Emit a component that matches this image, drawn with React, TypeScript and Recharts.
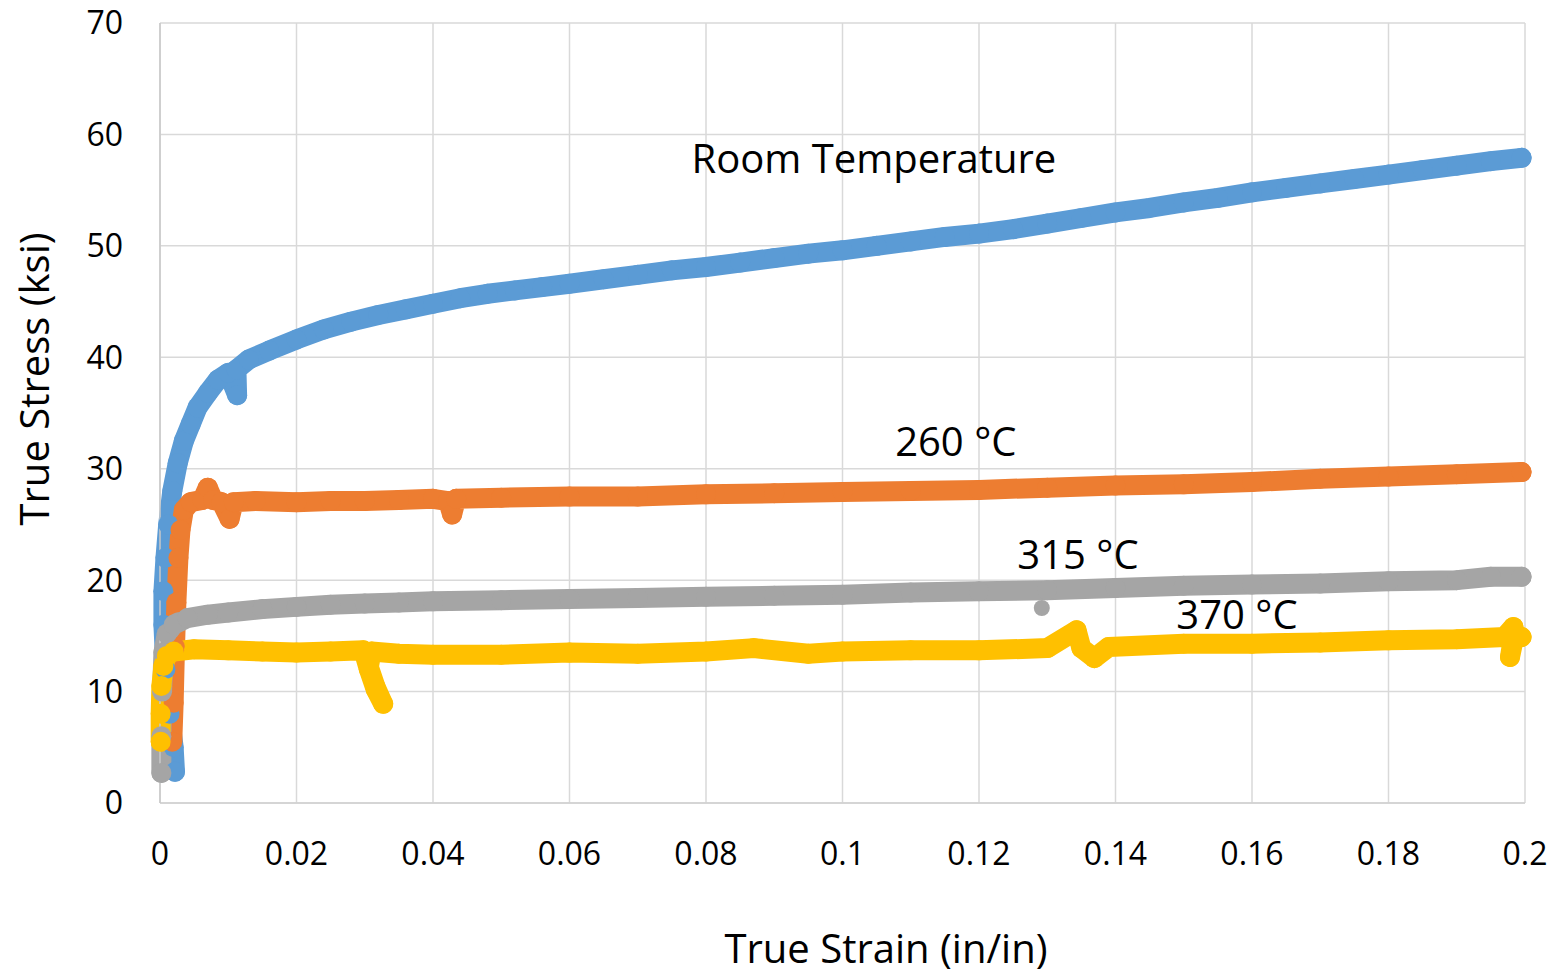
import { ComposedChart, Line, Scatter, XAxis, YAxis, CartesianGrid, ReferenceDot } from 'recharts';

// [strain (in/in), stress (ksi)]
const roomTemp: [number, number][] = [
  [0.0022, 2.8], [0.002, 5], [0.0014, 8], [0.0008, 12], [0.0005, 16], [0.0005, 19],
  [0.0008, 22], [0.0012, 25], [0.0018, 28], [0.0026, 30.5], [0.0035, 32.5], [0.0045, 34],
  [0.0055, 35.5], [0.007, 36.8], [0.0085, 38], [0.01, 38.6], [0.0113, 36.6], [0.0112, 38.9],
  [0.013, 39.8], [0.016, 40.6], [0.02, 41.6], [0.024, 42.5], [0.028, 43.2], [0.032, 43.8],
  [0.036, 44.3], [0.04, 44.8], [0.044, 45.3], [0.048, 45.7], [0.052, 46.0], [0.056, 46.3],
  [0.06, 46.6], [0.065, 47.0], [0.07, 47.4], [0.075, 47.8], [0.08, 48.1], [0.085, 48.5],
  [0.09, 48.9], [0.095, 49.3], [0.1, 49.6], [0.105, 50.0], [0.11, 50.4], [0.115, 50.8],
  [0.12, 51.1], [0.125, 51.5], [0.13, 52.0], [0.135, 52.5], [0.14, 53.0], [0.145, 53.4],
  [0.15, 53.9], [0.155, 54.3], [0.16, 54.8], [0.165, 55.2], [0.17, 55.6], [0.175, 56.0],
  [0.18, 56.4], [0.185, 56.8], [0.19, 57.2], [0.195, 57.6], [0.1995, 57.9],
];

const temp260: [number, number][] = [
  [0.0018, 5.5], [0.002, 9], [0.0022, 14], [0.0024, 18], [0.0027, 22], [0.003, 24.5],
  [0.0035, 26.3], [0.0045, 27], [0.0062, 27.2], [0.007, 28.3], [0.0078, 27.2], [0.009, 27.0],
  [0.0102, 25.5], [0.0108, 27.0], [0.014, 27.1], [0.02, 27.0], [0.025, 27.1], [0.03, 27.1],
  [0.035, 27.2], [0.04, 27.3], [0.0422, 27.1], [0.0428, 25.9], [0.0434, 27.3], [0.05, 27.4],
  [0.06, 27.5], [0.07, 27.5], [0.08, 27.7], [0.09, 27.8], [0.1, 27.9], [0.11, 28.0],
  [0.12, 28.1], [0.13, 28.3], [0.14, 28.5], [0.15, 28.6], [0.16, 28.8], [0.17, 29.1],
  [0.18, 29.3], [0.19, 29.5], [0.1995, 29.7],
];

const temp315: [number, number][] = [
  [0.0002, 2.7], [0.0002, 6], [0.0003, 10], [0.0005, 13.5], [0.001, 15.2], [0.002, 16],
  [0.004, 16.6], [0.007, 16.9], [0.01, 17.1], [0.015, 17.4], [0.02, 17.6], [0.025, 17.8],
  [0.03, 17.9], [0.035, 18.0], [0.04, 18.1], [0.05, 18.2], [0.06, 18.3], [0.07, 18.4],
  [0.08, 18.5], [0.09, 18.6], [0.1, 18.7], [0.11, 18.9], [0.12, 19.0], [0.13, 19.1],
  [0.14, 19.3], [0.15, 19.5], [0.16, 19.6], [0.17, 19.7], [0.18, 19.9], [0.19, 20.0],
  [0.195, 20.3], [0.1995, 20.3],
];

const temp315Stray: [number, number][] = [[0.1292, 17.5]];

const temp370: [number, number][] = [
  [0.0001, 5.5], [0.0001, 8], [0.0002, 10.5], [0.0005, 12.3], [0.001, 13.2], [0.002, 13.6],
  [0.005, 13.8], [0.01, 13.7], [0.015, 13.6], [0.02, 13.5], [0.025, 13.6], [0.0298, 13.7],
  [0.0306, 12], [0.0316, 10.2], [0.0327, 8.9], [0.0316, 10.4], [0.0306, 12.2], [0.031, 13.6],
  [0.035, 13.4], [0.04, 13.3], [0.05, 13.3], [0.06, 13.5], [0.07, 13.4], [0.08, 13.6],
  [0.087, 13.9], [0.095, 13.4], [0.1, 13.6], [0.11, 13.7], [0.12, 13.7], [0.13, 13.9],
  [0.1343, 15.5], [0.135, 13.9], [0.1369, 13.0], [0.139, 14.0], [0.15, 14.3], [0.16, 14.3],
  [0.17, 14.4], [0.18, 14.6], [0.19, 14.7], [0.197, 14.9], [0.1983, 15.8], [0.1985, 15.1],
  [0.1978, 13.1], [0.1982, 14.7], [0.1995, 14.9],
];

const xTicks = [0, 0.02, 0.04, 0.06, 0.08, 0.1, 0.12, 0.14, 0.16, 0.18, 0.2];
const yTicks = [0, 10, 20, 30, 40, 50, 60, 70];

const annotations: { text: string; x: number; y: number }[] = [
  { text: 'Room Temperature', x: 0.1046, y: 57.8 },
  { text: '260 °C', x: 0.1166, y: 32.4 },
  { text: '315 °C', x: 0.1345, y: 22.3 },
  { text: '370 °C', x: 0.1578, y: 16.9 },
];

const series = [
  { name: 'Room Temperature', points: roomTemp, color: '#5b9bd5' },
  { name: '260 °C', points: temp260, color: '#ed7d31' },
  { name: '315 °C', points: temp315, color: '#a5a5a5' },
  { name: '370 °C', points: temp370, color: '#ffc000' },
];

const FONT = '"Open Sans", "Noto Sans", sans-serif';

const toRows = (pts: [number, number][]) => pts.map(([x, y]) => ({ x, y }));

function fmtTick(v: number) {
  return String(Number(v.toFixed(2)));
}

function AnnotLabel(props: any) {
  const vb = props.viewBox || {};
  const cx = (vb.x ?? 0) + (vb.width ?? 0) / 2;
  const cy = (vb.y ?? 0) + (vb.height ?? 0) / 2;
  return (
    <text x={cx} y={cy} dy="0.36em" textAnchor="middle" fontSize={40} fontFamily={FONT} fill="#000">
      {props.value}
    </text>
  );
}

export default function App() {
  return (
    <div style={{ position: 'absolute', left: 0, top: 0, background: '#fff' }}>
      <ComposedChart width={1554} height={976} margin={{ top: 23, right: 29, left: 0, bottom: 0 }}>
        <CartesianGrid stroke="#d9d9d9" strokeWidth={1.5} />
        <XAxis
          type="number"
          dataKey="x"
          domain={[0, 0.2]}
          ticks={xTicks}
          tickFormatter={fmtTick}
          height={173}
          tickLine={false}
          tickMargin={33}
          axisLine={{ stroke: '#d0d0d0', strokeWidth: 1.5 }}
          tick={{ fill: '#000', fontSize: 32, fontFamily: FONT }}
          label={{
            content: () => (
              <text x={886} y={963} textAnchor="middle" fontSize={40} fontFamily={FONT} fill="#000">
                True Strain (in/in)
              </text>
            ),
          }}
        />
        <YAxis
          type="number"
          dataKey="y"
          domain={[0, 70]}
          ticks={yTicks}
          width={160}
          tickLine={false}
          tickMargin={31}
          axisLine={{ stroke: '#c8c8c8', strokeWidth: 1.5 }}
          tick={{ fill: '#000', fontSize: 32, fontFamily: FONT }}
          label={{
            content: () => (
              <text
                x={49}
                y={379}
                transform="rotate(-90, 49, 379)"
                textAnchor="middle"
                fontSize={40}
                fontFamily={FONT}
                fill="#000"
              >
                True Stress (ksi)
              </text>
            ),
          }}
        />
        {series.map((s) => (
          <Line
            key={s.name}
            name={s.name}
            data={toRows(s.points)}
            dataKey="y"
            type="linear"
            stroke={s.color}
            strokeWidth={20}
            strokeLinecap="round"
            strokeLinejoin="round"
            dot={{ r: 10, fill: s.color, stroke: 'none' }}
            activeDot={false}
            isAnimationActive={false}
          />
        ))}
        <Scatter
          data={toRows(temp315Stray)}
          dataKey="y"
          fill="#a5a5a5"
          isAnimationActive={false}
          shape={(p: any) => <circle cx={p.cx} cy={p.cy} r={8} fill="#a5a5a5" />}
        />
        {annotations.map((a) => (
          <ReferenceDot
            key={a.text}
            x={a.x}
            y={a.y}
            r={0}
            stroke="none"
            fill="none"
            label={<AnnotLabel value={a.text} />}
          />
        ))}
      </ComposedChart>
    </div>
  );
}
